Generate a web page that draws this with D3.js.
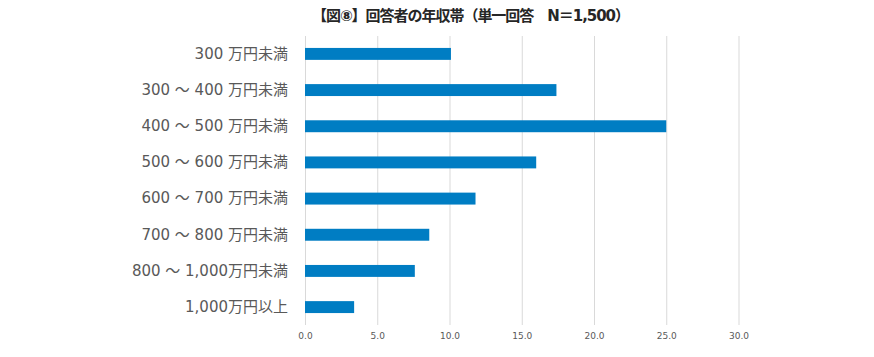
<!DOCTYPE html>
<html><head><meta charset="utf-8">
<script src="https://cdn.jsdelivr.net/npm/d3@7"></script>
<style>body{margin:0;background:#fff;}</style>
</head><body>
<svg id="c" width="874" height="357"></svg>
<script>
const title = "【図⑧】回答者の年収帯（単一回答　N＝1,500）";
const categories = ["300 万円未満","300 ～ 400 万円未満","400 ～ 500 万円未満","500 ～ 600 万円未満","600 ～ 700 万円未満","700 ～ 800 万円未満","800 ～ 1,000万円未満","1,000万円以上"];
const values = [10.1, 17.4, 25.0, 16.0, 11.8, 8.6, 7.6, 3.4];
const ticks = [0, 5, 10, 15, 20, 25, 30];

const svg = d3.select("#c");
const m = {left:305, top:36};
const x = d3.scaleLinear().domain([0,30]).range([m.left, 738.5]);
const y = d3.scaleBand().domain(categories).range([m.top, 325]).paddingInner(0.67).paddingOuter(0.33);
const fontMix = "'DejaVu Sans', 'Noto Sans CJK JP', sans-serif";

svg.append("text").attr("x",471).attr("y",21).attr("text-anchor","middle")
  .attr("font-family",fontMix).attr("font-weight","bold")
  .attr("font-size",15).attr("fill","#262626").text(title)
  .attr("textLength",318).attr("lengthAdjust","spacing");

const xAxis = d3.axisBottom(x).tickValues(ticks).tickFormat(d3.format(".1f")).tickSize(-(325-m.top)).tickPadding(8);
const gx = svg.append("g").attr("transform","translate(0,325)").call(xAxis);
gx.select(".domain").remove();
gx.selectAll("line").attr("stroke","#d9d9d9").attr("stroke-width",1);
gx.selectAll("text").attr("font-family","'DejaVu Sans', sans-serif").attr("font-size",9).attr("fill","#595959");

svg.append("g").selectAll("rect").data(values).join("rect")
  .attr("x", x(0)).attr("y",(d,i)=>y(categories[i]))
  .attr("width", d=>x(d)-x(0)).attr("height", y.bandwidth())
  .attr("fill","#007dc3");

const yAxis = d3.axisLeft(y).tickSize(0).tickPadding(17);
const gy = svg.append("g").attr("transform",`translate(${m.left},0)`).call(yAxis);
gy.select(".domain").remove();
gy.selectAll("text").attr("font-family",fontMix).attr("font-size",15).attr("fill","#595959");
</script>
</body></html>
